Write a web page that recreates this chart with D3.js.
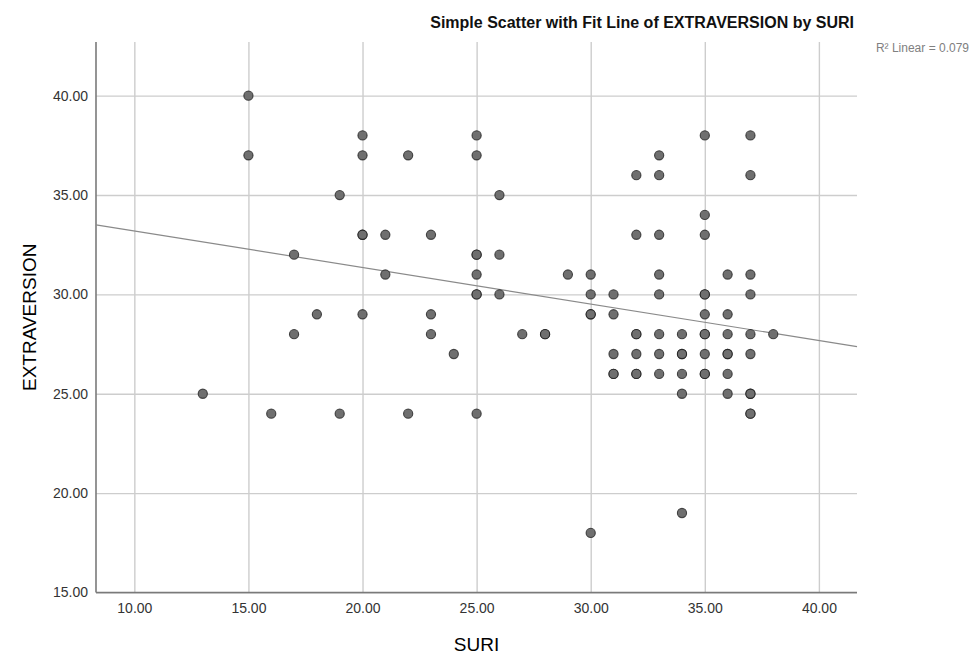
<!DOCTYPE html>
<html>
<head>
<meta charset="utf-8">
<script src="https://cdn.jsdelivr.net/npm/d3@7"></script>
<style>
  body { margin: 0; background: #fff; }
  svg text { font-family: "Liberation Sans", Arial, sans-serif; }
</style>
</head>
<body>
<svg id="chart" width="973" height="654"></svg>
<script>
// valores (una entrada por caso, repetidos donde el punto se ve mas oscuro)
const suri = [
  13,
  15, 15,
  16,
  17, 17,
  18,
  19, 19,
  20, 20, 20, 20, 20,
  21, 21,
  22, 22,
  23, 23, 23,
  24,
  25, 25, 25, 25, 25, 25, 25, 25,
  26, 26, 26,
  27,
  28, 28,
  29,
  30, 30, 30, 30, 30,
  31, 31, 31, 31, 31,
  32, 32, 32, 32, 32, 32, 32,
  33, 33, 33, 33, 33, 33, 33, 33,
  34, 34, 34, 34, 34, 34,
  35, 35, 35, 35, 35, 35, 35, 35, 35, 35, 35,
  36, 36, 36, 36, 36, 36, 36,
  37, 37, 37, 37, 37, 37, 37, 37, 37, 37,
  38
];
const extraversion = [
  25,
  40, 37,
  24,
  32, 28,
  29,
  35, 24,
  38, 37, 33, 33, 29,
  33, 31,
  37, 24,
  33, 29, 28,
  27,
  38, 37, 32, 32, 31, 30, 30, 24,
  35, 32, 30,
  28,
  28, 28,
  31,
  31, 30, 29, 29, 18,
  30, 29, 27, 26, 26,
  36, 33, 28, 28, 27, 26, 26,
  37, 36, 33, 31, 30, 28, 27, 26,
  28, 27, 27, 26, 25, 19,
  38, 34, 33, 30, 30, 29, 28, 28, 27, 26, 26,
  31, 29, 28, 27, 27, 26, 25,
  38, 36, 31, 30, 28, 27, 25, 25, 24, 24,
  28
];
const xTicks = [10, 15, 20, 25, 30, 35, 40];
const yTicks = [15, 20, 25, 30, 35, 40];
const fitIntercept = 35.03;
const fitSlope = -0.1838;
const rSquared = 0.079;
const title = "Simple Scatter with Fit Line of EXTRAVERSION by SURI";
const xLabel = "SURI";
const yLabel = "EXTRAVERSION";

const data = suri.map((s, i) => ({ x: s, y: extraversion[i] }));

const svg = d3.select("#chart");
const plotLeft = 96, plotRight = 857, plotTop = 42, plotBottom = 592.5;

const x = d3.scaleLinear().domain([8.32, 41.67]).range([plotLeft, plotRight]);
const y = d3.scaleLinear().domain([15, 42.7]).range([plotBottom, plotTop]);
const fmt = d3.format(".2f");

// rejilla + etiquetas
const xAxis = svg.append("g")
  .attr("transform", `translate(0,${plotBottom})`)
  .call(d3.axisBottom(x)
    .tickValues(xTicks)
    .tickSizeInner(-(plotBottom - plotTop))
    .tickSizeOuter(0)
    .tickPadding(11)
    .tickFormat(fmt));

const yAxis = svg.append("g")
  .attr("transform", `translate(${plotLeft},0)`)
  .call(d3.axisLeft(y)
    .tickValues(yTicks)
    .tickSizeInner(-(plotRight - plotLeft))
    .tickSizeOuter(0)
    .tickPadding(8)
    .tickFormat(fmt));

[xAxis, yAxis].forEach(a => {
  a.select(".domain").remove();
  a.selectAll(".tick line").attr("stroke", "#cdcdcd").attr("stroke-width", 1.4);
  a.selectAll(".tick text")
    .attr("fill", "#333")
    .style("font-size", "14px");
});

// ejes
svg.append("line")
  .attr("x1", plotLeft).attr("x2", plotRight)
  .attr("y1", plotBottom).attr("y2", plotBottom)
  .attr("stroke", "#7a7a7a").attr("stroke-width", 1.6);

svg.append("line")
  .attr("x1", plotLeft).attr("x2", plotLeft)
  .attr("y1", plotTop).attr("y2", plotBottom)
  .attr("stroke", "#7a7a7a").attr("stroke-width", 1.6);

// recta de ajuste
const xd = x.domain();
svg.append("path")
  .datum(xd.map(v => ({ x: v, y: fitIntercept + fitSlope * v })))
  .attr("fill", "none")
  .attr("stroke", "#8a8a8a")
  .attr("stroke-width", 1.2)
  .attr("d", d3.line().x(d => x(d.x)).y(d => y(d.y)));

// puntos
svg.append("g")
  .selectAll("circle")
  .data(data)
  .enter()
  .append("circle")
  .attr("cx", d => x(d.x))
  .attr("cy", d => y(d.y))
  .attr("r", 4.6)
  .attr("fill", "#6f6f6f")
  .attr("stroke", "rgba(25,25,25,0.75)")
  .attr("stroke-width", 1.1);

// textos
svg.append("text")
  .attr("x", 854)
  .attr("y", 28)
  .attr("text-anchor", "end")
  .style("font-size", "16px")
  .style("font-weight", "bold")
  .attr("fill", "#111")
  .text(title);

// en la referencia queda cortado en el borde; se deja entero un poco mas a la izquierda
svg.append("text")
  .attr("x", 969)
  .attr("y", 52)
  .attr("text-anchor", "end")
  .style("font-size", "12px")
  .attr("fill", "#808080")
  .text(`R² Linear = ${rSquared.toFixed(3)}`);

svg.append("text")
  .attr("transform", `translate(36,${(plotTop + plotBottom) / 2}) rotate(-90)`)
  .attr("text-anchor", "middle")
  .style("font-size", "19px")
  .attr("fill", "#000")
  .text(yLabel);

svg.append("text")
  .attr("x", (plotLeft + plotRight) / 2)
  .attr("y", 651)
  .attr("text-anchor", "middle")
  .style("font-size", "19px")
  .attr("fill", "#000")
  .text(xLabel);
</script>
</body>
</html>
